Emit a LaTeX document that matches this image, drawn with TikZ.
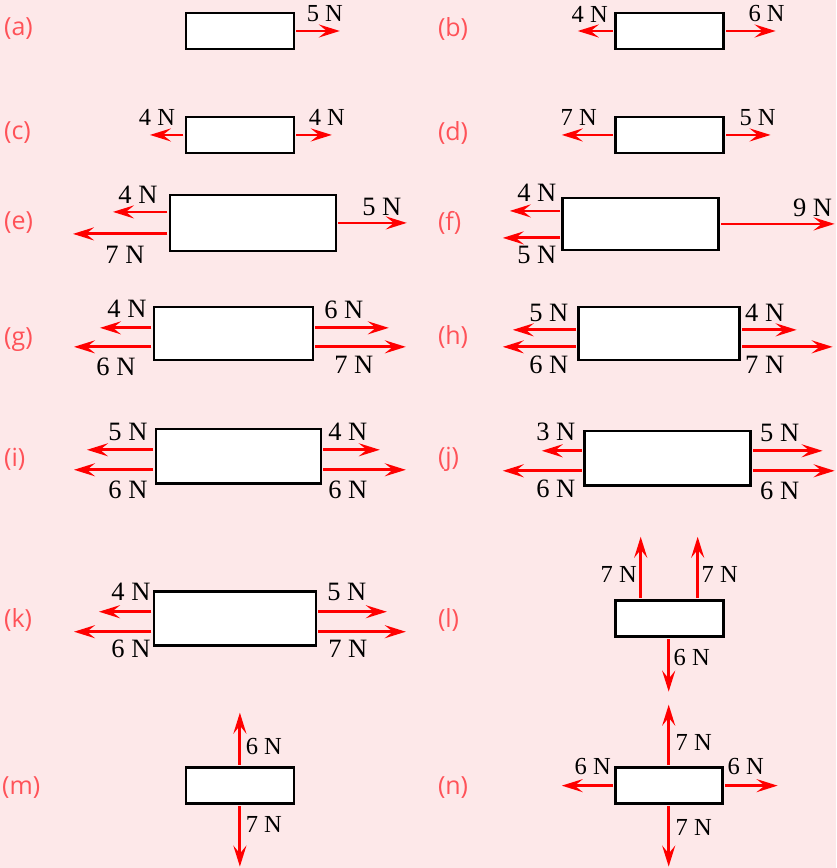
\documentclass[tikz,border=0pt]{standalone}
\usepackage{fontspec}
\setmainfont{Liberation Serif}
\newfontfamily\tagfont{Open Sans}
\usepackage{xcolor}
\usetikzlibrary{arrows.meta}

\definecolor{bgpink}{HTML}{FDE8E9}
\definecolor{tagred}{HTML}{FF5258}
\definecolor{forcered}{HTML}{FF0000}

\tikzset{
    block/.style={draw=black, fill=white, line width=2.6pt, inner sep=0pt,
        minimum width=108, minimum height=36},
    force/.style={-{Stealth[length=21pt, width=13pt, inset=8pt]}, forcered,
        line width=2.8pt, shorten <=1.2pt},
    flabel/.style={font=\fontsize{24.5}{26}\selectfont, inner sep=0pt},
    fbig/.style={font=\fontsize{26.5}{28}\selectfont, inner sep=0pt},
    tag/.style={tagred, font=\tagfont\fontsize{25}{28}\selectfont, inner sep=0pt, anchor=west}
}

\begin{document}
\begin{tikzpicture}[x=1pt, y=-1pt]
    % Background
    \fill[bgpink] (0,0) rectangle (836,868);

    % Panel tags
    \foreach \t/\x/\y in {a/4/29, b/438/29, c/4/133, d/438/133, e/4/223, f/438/223,
                          g/4/340, h/438/337, i/4/460, j/438/460, k/4/620, l/438/620,
                          m/2/788, n/438/788} {
        \node[tag] (tag\t) at (\x,\y) {(\t)};
    }

    % (a)
    \node[block] (a) at (240,31) {};
    \coordinate (a1) at (340,31);
    \draw[force] (a.east) -- (a1);
    \node[flabel] (la1) at (325,14) {5 N};

    % (b)
    \node[block] (b) at (670,31) {};
    \coordinate (b1) at (578,31);
    \coordinate (b2) at (776,31);
    \draw[force] (b.west) -- (b1);
    \draw[force] (b.east) -- (b2);
    \node[flabel] (lb1) at (590,14) {4 N};
    \node[flabel] (lb2) at (767,14) {6 N};

    % (c)
    \node[block] (c) at (240,135) {};
    \coordinate (c1) at (150,135);
    \coordinate (c2) at (332,135);
    \draw[force] (c.west) -- (c1);
    \draw[force] (c.east) -- (c2);
    \node[flabel] (lc1) at (157,117) {4 N};
    \node[flabel] (lc2) at (327,117) {4 N};

    % (d)
    \node[block] (d) at (670,135) {};
    \coordinate (d1) at (562,135);
    \coordinate (d2) at (771,135);
    \draw[force] (d.west) -- (d1);
    \draw[force] (d.east) -- (d2);
    \node[flabel] (ld1) at (579,118) {7 N};
    \node[flabel] (ld2) at (758,118) {5 N};

    % (e)
    \node[block, minimum width=166, minimum height=56] (e) at (253,223) {};
    \coordinate (e1) at (113,212);
    \coordinate (e2) at (73,234);
    \coordinate (e3) at (407,223);
    \draw[force] (e.west |- e1) -- (e1);
    \draw[force] (e.west |- e2) -- (e2);
    \draw[force] (e.east) -- (e3);
    \node[fbig] (le1) at (138,195) {4 N};
    \node[fbig] (le2) at (125,255) {7 N};
    \node[fbig] (le3) at (382,207) {5 N};

    % (f)
    \node[block, minimum width=156, minimum height=52] (f) at (641,224) {};
    \coordinate (f1) at (510,211);
    \coordinate (f2) at (503,238);
    \coordinate (f3) at (835,224);
    \draw[force] (f.west |- f1) -- (f1);
    \draw[force] (f.west |- f2) -- (f2);
    \draw[force] (f.east) -- (f3);
    \node[fbig] (lf1) at (537,193) {4 N};
    \node[fbig] (lf2) at (537,255) {5 N};
    \node[fbig] (lf3) at (813,208) {9 N};

    % (g)
    \node[block, minimum width=159, minimum height=53] (g) at (233.5,333.5) {};
    \coordinate (g1) at (100,328);
    \coordinate (g2) at (74,347);
    \coordinate (g3) at (389,328);
    \coordinate (g4) at (406,347);
    \draw[force] (g.west |- g1) -- (g1);
    \draw[force] (g.west |- g2) -- (g2);
    \draw[force] (g.east |- g3) -- (g3);
    \draw[force] (g.east |- g4) -- (g4);
    \node[fbig] (lg1) at (127,309) {4 N};
    \node[fbig] (lg2) at (116,367) {6 N};
    \node[fbig] (lg3) at (344,310) {6 N};
    \node[fbig] (lg4) at (354,365) {7 N};

    % (h)
    \node[block, minimum width=161, minimum height=53] (h) at (659.5,333.5) {};
    \coordinate (h1) at (513,330);
    \coordinate (h2) at (503,347);
    \coordinate (h3) at (797,330);
    \coordinate (h4) at (833,347);
    \draw[force] (h.west |- h1) -- (h1);
    \draw[force] (h.west |- h2) -- (h2);
    \draw[force] (h.east |- h3) -- (h3);
    \draw[force] (h.east |- h4) -- (h4);
    \node[fbig] (lh1) at (549,313) {5 N};
    \node[fbig] (lh2) at (549,365) {6 N};
    \node[fbig] (lh3) at (765,313) {4 N};
    \node[fbig] (lh4) at (765,365) {7 N};

    % (i)
    \node[block, minimum width=165, minimum height=55] (i) at (238.5,456.5) {};
    \coordinate (i1) at (87,450);
    \coordinate (i2) at (74,470);
    \coordinate (i3) at (380,450);
    \coordinate (i4) at (406,470);
    \draw[force] (i.west |- i1) -- (i1);
    \draw[force] (i.west |- i2) -- (i2);
    \draw[force] (i.east |- i3) -- (i3);
    \draw[force] (i.east |- i4) -- (i4);
    \node[fbig] (li1) at (128,432) {5 N};
    \node[fbig] (li2) at (128,490) {6 N};
    \node[fbig] (li3) at (348,432) {4 N};
    \node[fbig] (li4) at (348,490) {6 N};

    % (j)
    \node[block, minimum width=166, minimum height=55] (j) at (668,458.5) {};
    \coordinate (j1) at (542,451);
    \coordinate (j2) at (503,471);
    \coordinate (j3) at (823,451);
    \coordinate (j4) at (835,471);
    \draw[force] (j.west |- j1) -- (j1);
    \draw[force] (j.west |- j2) -- (j2);
    \draw[force] (j.east |- j3) -- (j3);
    \draw[force] (j.east |- j4) -- (j4);
    \node[fbig] (lj1) at (556,432) {3 N};
    \node[fbig] (lj2) at (556,489) {6 N};
    \node[fbig] (lj3) at (780,433) {5 N};
    \node[fbig] (lj4) at (780,491) {6 N};

    % (k)
    \node[block, minimum width=162, minimum height=54] (k) at (235,619) {};
    \coordinate (k1) at (99,612);
    \coordinate (k2) at (74,632);
    \coordinate (k3) at (387,612);
    \coordinate (k4) at (406,632);
    \draw[force] (k.west |- k1) -- (k1);
    \draw[force] (k.west |- k2) -- (k2);
    \draw[force] (k.east |- k3) -- (k3);
    \draw[force] (k.east |- k4) -- (k4);
    \node[fbig] (lk1) at (131,592) {4 N};
    \node[fbig] (lk2) at (131,649) {6 N};
    \node[fbig] (lk3) at (347,592) {5 N};
    \node[fbig] (lk4) at (348,649) {7 N};

    % (l)
    \node[block] (l) at (670,619) {};
    \coordinate (l1) at (641,537);
    \coordinate (l2) at (698,537);
    \coordinate (l3) at (669,692);
    \draw[force] (l.north -| l1) -- (l1);
    \draw[force] (l.north -| l2) -- (l2);
    \draw[force] (l.south -| l3) -- (l3);
    \node[flabel] (ll1) at (619,575) {7 N};
    \node[flabel] (ll2) at (720,575) {7 N};
    \node[flabel] (ll3) at (692,658) {6 N};

    % (m)
    \node[block] (m) at (240,786) {};
    \coordinate (m1) at (240,713);
    \coordinate (m2) at (240,867);
    \draw[force] (m.north) -- (m1);
    \draw[force] (m.south) -- (m2);
    \node[flabel] (lm1) at (264,747) {6 N};
    \node[flabel] (lm2) at (264,825) {7 N};

    % (n)
    \node[block, minimum width=107] (n) at (669.5,786) {};
    \coordinate (n1) at (669,705);
    \coordinate (n2) at (669,867);
    \coordinate (n3) at (562,786);
    \coordinate (n4) at (778,786);
    \draw[force] (n.north -| n1) -- (n1);
    \draw[force] (n.south -| n2) -- (n2);
    \draw[force] (n.west) -- (n3);
    \draw[force] (n.east) -- (n4);
    \node[flabel] (ln1) at (694,743) {7 N};
    \node[flabel] (ln2) at (694,828) {7 N};
    \node[flabel] (ln3) at (593,767) {6 N};
    \node[flabel] (ln4) at (746,767) {6 N};
\end{tikzpicture}
\end{document}
